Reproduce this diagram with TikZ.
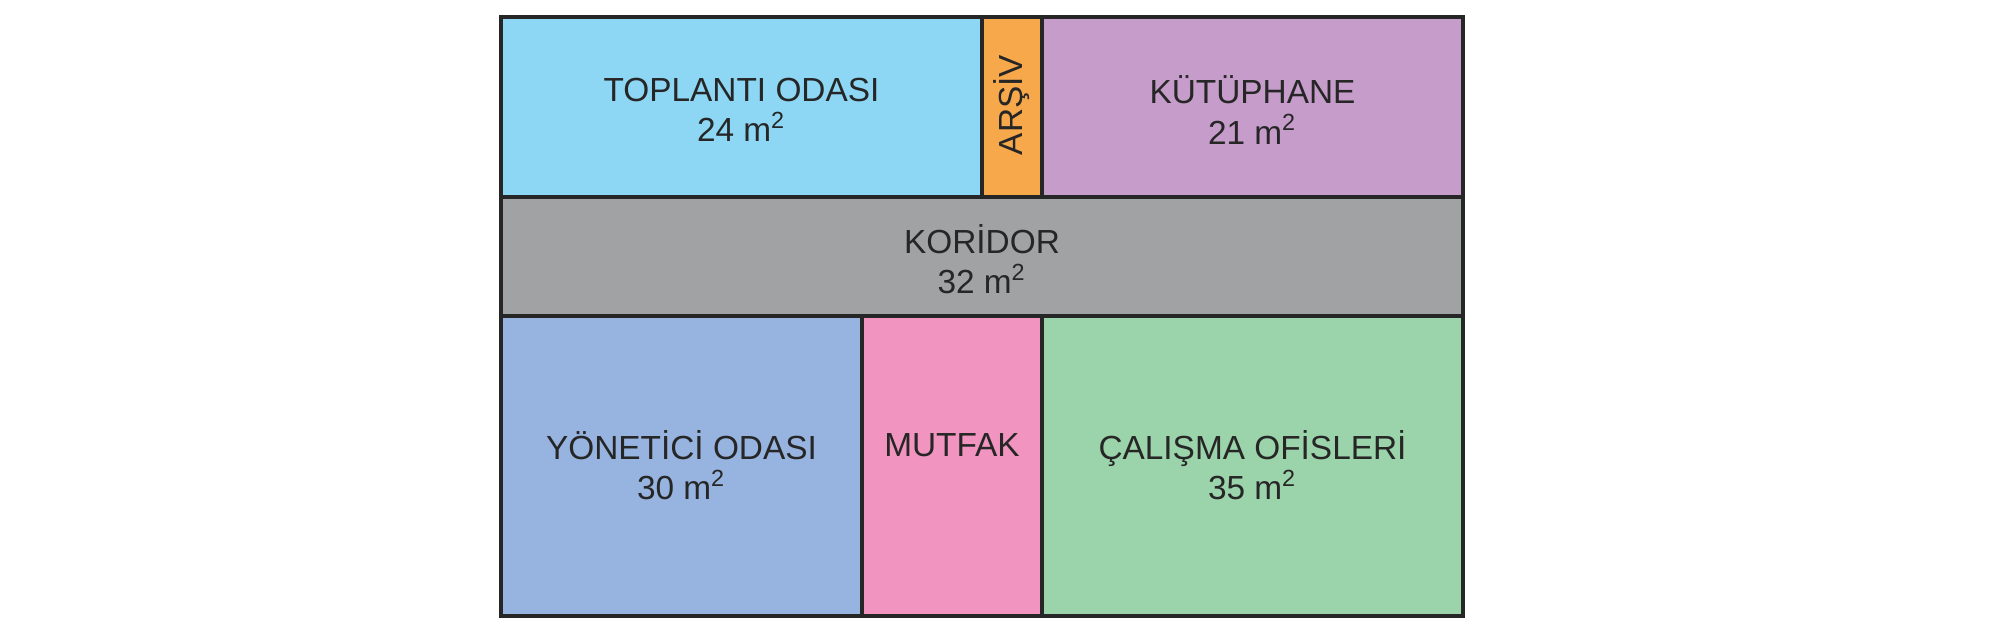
\documentclass[tikz,border=0pt]{standalone}
\usepackage{fontspec}
\setmainfont{Liberation Sans}
\usepackage{tikz}
\definecolor{toplanti}{HTML}{8DD7F5}
\definecolor{arsiv}{HTML}{F7A84A}
\definecolor{kutup}{HTML}{C69CCB}
\definecolor{koridor}{HTML}{A0A2A4}
\definecolor{yonetici}{HTML}{96B4DF}
\definecolor{mutfak}{HTML}{F294C0}
\definecolor{calisma}{HTML}{9BD3AB}
\tikzset{room/.style={draw=black!85,line width=1pt},
lbl/.style={align=center,text=black!85,font=\fontsize{9.5}{11.5}\selectfont}}

\begin{document}
\begin{tikzpicture}
\useasboundingbox (0,0) rectangle (20,6.3);
% rooms
\draw[room,fill=toplanti] (5.01,6.13) rectangle (9.82,4.33);
\draw[room,fill=arsiv] (9.82,6.13) rectangle (10.42,4.33);
\draw[room,fill=kutup] (10.42,6.13) rectangle (14.63,4.33);
\draw[room,fill=koridor] (5.01,4.33) rectangle (14.63,3.14);
\draw[room,fill=yonetici] (5.01,3.14) rectangle (8.62,0.14);
\draw[room,fill=mutfak] (8.62,3.14) rectangle (10.42,0.14);
\draw[room,fill=calisma] (10.42,3.14) rectangle (14.63,0.14);
% labels
\node[lbl] (top) at (7.415,5.2) {TOPLANTI ODASI\\24 m\textsuperscript{2}};
\node[lbl,rotate=90] (ars) at (10.12,5.25) {ARŞİV};
\node[lbl] (kut) at (12.525,5.2) {KÜTÜPHANE\\21 m\textsuperscript{2}};
\node[lbl] (kor) at (9.82,3.71) {KORİDOR\\32 m\textsuperscript{2}};
\node[lbl] (yon) at (6.815,1.65) {YÖNETİCİ ODASI\\30 m\textsuperscript{2}};
\node[lbl] (mut) at (9.52,1.85) {MUTFAK};
\node[lbl] (cal) at (12.525,1.65) {ÇALIŞMA OFİSLERİ\\35 m\textsuperscript{2}};
\end{tikzpicture}
\end{document}
